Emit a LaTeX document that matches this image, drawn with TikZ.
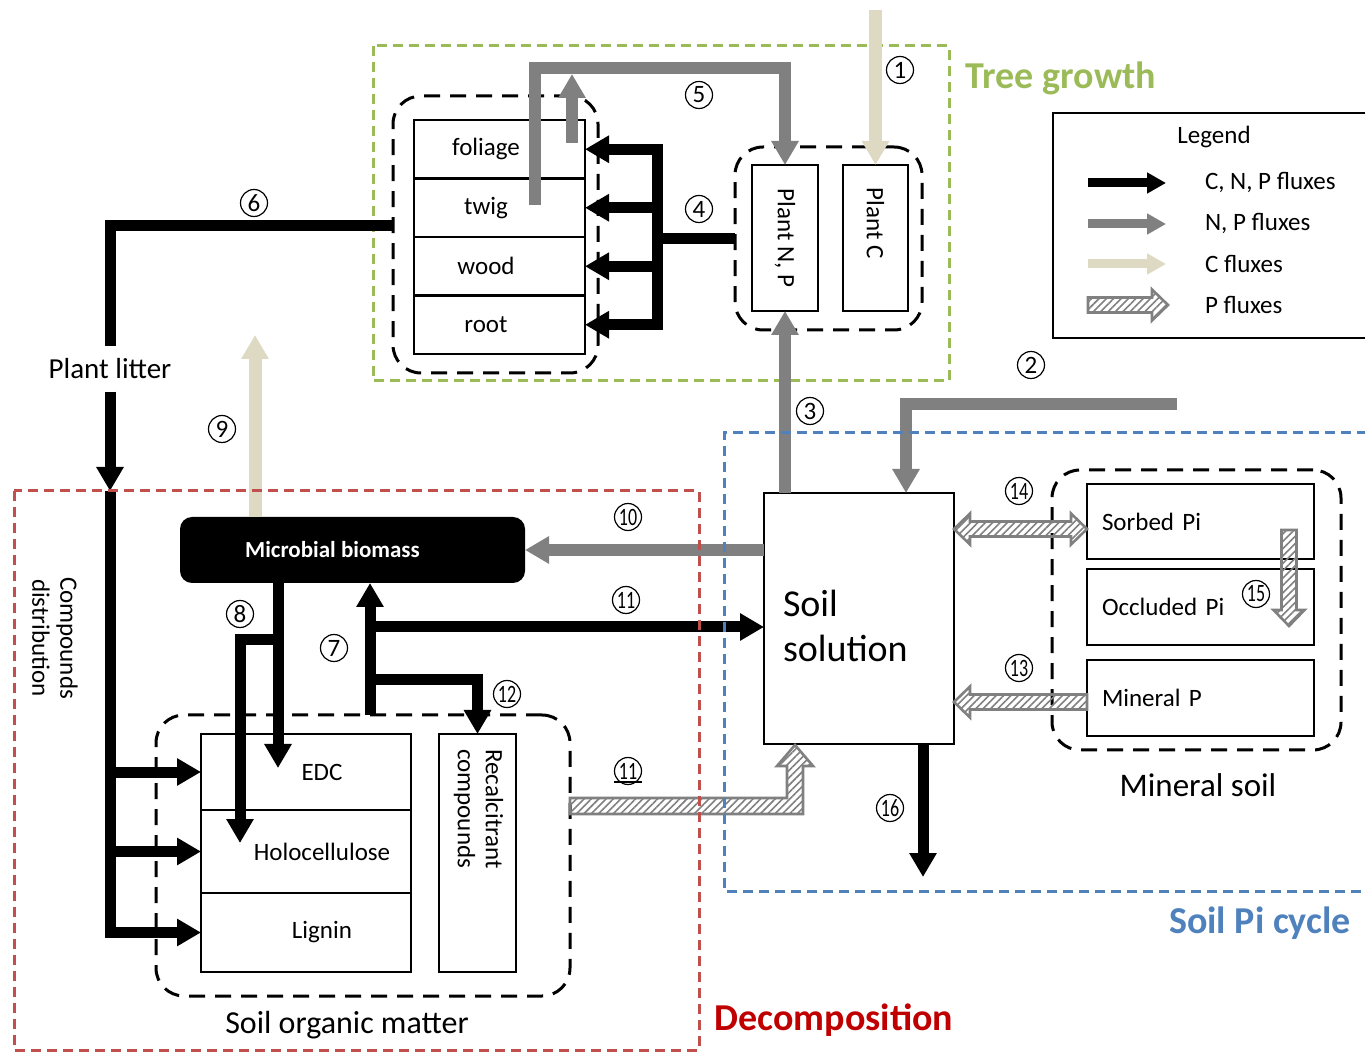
\documentclass[tikz,border=0pt]{standalone}
\usepackage{fontspec}
\setmainfont{Carlito}
\usetikzlibrary{arrows.meta, calc, positioning, patterns.meta}

\definecolor{npgray}{RGB}{128,128,128}
\definecolor{cbeige}{RGB}{221,217,195}
\definecolor{treegreen}{RGB}{155,187,89}
\definecolor{decred}{RGB}{192,80,77}
\definecolor{decdark}{RGB}{192,0,0}
\definecolor{piblue}{RGB}{79,129,189}

\tikzset{
  box/.style={draw, line width=1.3pt, outer sep=0pt, inner sep=0pt},
  organ/.style={box, lbl, minimum width=85.5pt, minimum height=29.25pt},
  pool/.style={box, lbl, minimum width=113.5pt, minimum height=37.5pt, text width=98.5pt, align=left},
  grp/.style={draw, dash pattern=on 8pt off 5pt, line width=1.5pt, rounded corners=14pt, outer sep=0pt, inner sep=0pt},
  region/.style={dash pattern=on 5pt off 3pt, line width=1.5pt},
  cnp/.style={draw=black, line width=5.5pt},
  np/.style={draw=npgray, line width=6pt},
  conly/.style={draw=cbeige, line width=6.5pt},
  tip/.style={-{Triangle[width=13pt,length=12pt]}},
  ltip/.style={-{Triangle[width=10pt,length=9.5pt]}},
  pflux/.style={draw=npgray, line width=1.3pt, pattern={Lines[angle=45,distance=2.6pt,line width=0.8pt]}, pattern color=npgray},
  num/.style={circle, draw, line width=0.6pt, inner sep=0pt, minimum size=13.5pt, font=\fontsize{12.5}{12.5}\selectfont},
  lbl/.style={font=\fontsize{12.5}{14}\selectfont},
  big/.style={font=\fontsize{16}{17}\selectfont},
  title/.style={font=\bfseries\fontsize{19}{20}\selectfont},
}

\newcommand{\twodig}[1]{\scalebox{0.72}[1]{#1}}
% hatched P flux arrow from #1 to #2
\newcommand{\pfluxarrow}[2]{%
  \coordinate (pfa) at #1; \coordinate (pfb) at #2;
  \coordinate (pfh) at ($(pfb)!8pt!(pfa)$);
  \draw[pflux] ($(pfa)!3.75pt!90:(pfb)$) -- ($(pfh)!3.75pt!90:(pfb)$) -- ($(pfh)!7.75pt!90:(pfb)$) -- (pfb)
    -- ($(pfh)!7.75pt!-90:(pfb)$) -- ($(pfh)!3.75pt!-90:(pfb)$) -- ($(pfa)!3.75pt!-90:(pfb)$) -- cycle;}
\newcommand{\pfluxdouble}[2]{%
  \coordinate (pfa) at #1; \coordinate (pfb) at #2;
  \coordinate (pfh) at ($(pfb)!8pt!(pfa)$);
  \coordinate (pft) at ($(pfa)!8pt!(pfb)$);
  \draw[pflux] (pfa) -- ($(pft)!7.75pt!90:(pfb)$) -- ($(pft)!3.75pt!90:(pfb)$) -- ($(pfh)!3.75pt!90:(pfb)$)
    -- ($(pfh)!7.75pt!90:(pfb)$) -- (pfb) -- ($(pfh)!7.75pt!-90:(pfb)$) -- ($(pfh)!3.75pt!-90:(pfb)$)
    -- ($(pft)!3.75pt!-90:(pfb)$) -- ($(pft)!7.75pt!-90:(pfb)$) -- cycle;}

\begin{document}
\begin{tikzpicture}[x=0.5pt, y=-0.5pt]
\useasboundingbox (0,0) rectangle (1365,1052);

\draw[region, treegreen] (373,46) rectangle (949,381);

% tree compartments
\node[grp, minimum width=102.5pt, minimum height=138.5pt, anchor=north west] (treegrp) at (393,96) {};
\node[organ, anchor=north west] (foliage) at (414,120) {foliage\hspace*{13.5pt}};
\node[organ, below=0pt of foliage] (twig) {twig\hspace*{13.5pt}};
\node[organ, below=0pt of twig] (wood) {wood\hspace*{13.5pt}};
\node[organ, below=0pt of wood] (root) {root\hspace*{13.5pt}};

\node[grp, minimum width=93.5pt, minimum height=91.5pt, anchor=north west] (plantgrp) at (735,147) {};
\node[box, lbl, minimum width=33pt, minimum height=73pt, anchor=north west] (plantnp) at (752,165) {\rotatebox{-90}{Plant N, P}};
\node[box, lbl, minimum width=32.5pt, minimum height=73pt, anchor=north west] (plantc) at (843,165) {\rotatebox{-90}{Plant C\hspace{15pt}}};

\node[font=\fontsize{14.5}{15}\selectfont, inner sep=6pt] (litter) at (110,369) {Plant litter};
\node[lbl, rotate=-90, align=center, font=\fontsize{12.5}{14}\selectfont] (compdist) at (55,638) {Compounds\\distribution};

% soil organic matter
\node[fill=black, rounded corners=6pt, minimum width=172.5pt, minimum height=33pt, anchor=north west, inner sep=0pt, outer sep=0pt,
  text=white, font=\bfseries\fontsize{11.5}{12}\selectfont] (micro) at (180,517) {Microbial biomass\hspace*{20pt}};
\node[grp, minimum width=207pt, minimum height=140.5pt, anchor=north west] (somgrp) at (156,715) {};
\node[box, lbl, minimum width=105pt, minimum height=38pt, anchor=north west] (edc) at (201,734) {\hspace*{16pt}EDC};
\node[box, lbl, minimum width=105pt, minimum height=41.5pt, below=0pt of edc] (holo) {\hspace*{16pt}Holocellulose};
\node[box, lbl, minimum width=105pt, minimum height=39.5pt, below=0pt of holo] (lignin) {\hspace*{16pt}Lignin};
\node[box, lbl, minimum width=38.5pt, minimum height=119pt, anchor=north west] (recal) at (439,734)
  {\rotatebox{-90}{\begin{tabular}{@{}l@{\hspace{44pt}}}Recalcitrant\\compounds\end{tabular}}};
\node[big] (somlbl) at (347,1025) {Soil organic matter};

% soil solution and mineral soil
\node[box, minimum width=95pt, minimum height=125.5pt, anchor=north west, text width=76pt, align=left,
  font=\fontsize{19}{22.5}\selectfont] (sol) at (764,493)
  {\raisebox{-6pt}[\height][\depth]{\begin{tabular}{@{}l@{}}Soil\\solution\end{tabular}}};
\node[grp, minimum width=144.5pt, minimum height=140pt, anchor=north west] (mingrp) at (1052,470) {};
\node[pool, anchor=north west] (sorbed) at (1087,484) {Sorbed Pi};
\node[pool, anchor=north west, minimum height=38pt] (occl) at (1087,569) {Occluded Pi};
\node[pool, anchor=north west, minimum height=38pt] (minp) at (1087,660) {Mineral P};
\node[font=\fontsize{16.5}{17}\selectfont] (minlbl) at (1198,785) {Mineral soil};

% free ends
\coordinate (c1) at (875.5,10);
\coordinate (c2) at (1177,404);
\coordinate (c5) at (535,205);
\coordinate (c5t) at (535,68);
\coordinate (c5f) at (572,143);
\coordinate (c9) at (255,335);
\coordinate (scd) at (110,491);
\coordinate (c7) at (370,715);
\coordinate (c8) at (278,640);
\coordinate (c16) at (923,877);

% C, N, P fluxes
\draw[cnp] (plantgrp.west) -- (657,238.5);
\draw[cnp, line cap=rect] (657,149.5) -- (657,324.5);
\foreach \o in {foliage,twig,wood,root}
  \draw[cnp, tip] (\o.east -| 657,0) -- (\o.east);
\draw[cnp] ([yshift=4.5pt]treegrp.west) -| (litter.north);
\draw[cnp, tip] (litter.south) -- (scd);
\draw[cnp, tip] (scd) |- (lignin.west);
\draw[cnp, tip] (edc.west -| scd) -- (edc.west);
\draw[cnp, tip] (holo.west -| scd) -- (holo.west);
\draw[cnp, tip] (c7) -- (c7 |- micro.south);
\draw[cnp, tip] (c7 |- 0,627) -- (sol.west |- 0,627);
\draw[cnp, tip] (c7 |- 0,680) -| (recal.north);
\draw[cnp, tip] (micro.south -| c8) -- (c8 |- 0,768);
\draw[cnp, tip] (c8) -- (240,640) -- (240,843);
\draw[cnp, tip] (sol.south -| c16) -- (c16);

% N, P fluxes
\draw[np, tip] (c5) -- (c5t) -| (plantnp.north);
\draw[np, tip] (c5f) -- (572,74);
\draw[np, tip] (plantnp.south |- sol.north) -- (plantnp.south);
\draw[np, tip] (c2) -| ($(sol.north)+(47,0)$);
\draw[np, tip] (micro.east -| sol.west) -- (micro.east);

% C fluxes
\draw[conly, tip] (c1) -- (plantc.north);
\draw[conly, tip] (micro.north -| c9) -- (c9);

% P fluxes
\pfluxdouble{(sol.east |- 0,529)}{(sorbed.west |- 0,529)}
\pfluxarrow{(minp.west |- 0,702)}{(sol.east |- 0,702)}
\pfluxarrow{(1289,530)}{(1289,626)}
\draw[pflux] (somgrp.east |- 0,798) -- (787,798) -- (787,766) -- (777,766) -- (795,745) -- (813,766)
  -- (803,766) -- (803,814) -- (somgrp.east |- 0,814) -- cycle;

\draw[region, decred] (14,491) rectangle (699,1050);
\draw[region, piblue] (1367,433) -- (724,433) -- (724,891) -- (1367,891);

% flux numbers
\node[num] (n1) at (900,70) {1};
\node[num] (n2) at (1031,365) {2};
\node[num] (n3) at (810,411) {3};
\node[num] (n4) at (699,209) {4};
\node[num] (n5) at (699,95) {5};
\node[num] (n6) at (254,203) {6};
\node[num] (n7) at (334,648) {7};
\node[num] (n8) at (240,614) {8};
\node[num] (n9) at (222,429) {9};
\node[num] (n10) at (628,517) {\twodig{10}};
\node[num] (n11) at (626,600) {\twodig{11}};
\node[num] (n11p) at (628,771) {\twodig{11}};
\draw[line width=1.2pt] ([xshift=-2pt,yshift=-0.5pt]n11p.south west) -- ([xshift=2pt,yshift=-0.5pt]n11p.south east);
\node[num] (n12) at (507,694) {\twodig{12}};
\node[num] (n13) at (1019,668) {\twodig{13}};
\node[num] (n14) at (1019,491) {\twodig{14}};
\node[num] (n15) at (1256,594) {\twodig{15}};
\node[num] (n16) at (890,808) {\twodig{16}};

% titles
\node[title, text=treegreen] (ttree) at (1061,78) {Tree growth};
\node[title, text=decdark] (tdec) at (834,1020) {Decomposition};
\node[title, text=piblue] (tpi) at (1260,923) {Soil Pi cycle};

% legend
\draw[line width=1pt] (1367,113) -- (1053,113) -- (1053,338) -- (1367,338);
\node[lbl] (legend) at (1214,137) {Legend};
\draw[cnp, line width=4.5pt, ltip] (1088,183) -- (1166,183);
\draw[np, line width=4.5pt, ltip] (1088,224) -- (1166,224);
\draw[conly, line width=4.5pt, ltip] (1088,264) -- (1166,264);
\pfluxarrow{(1088,305)}{(1168,305)}
\node[lbl, anchor=west] (lg1) at (1198,183) {C, N, P fluxes};
\node[lbl, anchor=west] (lg2) at (1198,224) {N, P fluxes};
\node[lbl, anchor=west] (lg3) at (1198,264) {C fluxes};
\node[lbl, anchor=west] (lg4) at (1198,305) {P fluxes};
\end{tikzpicture}
\end{document}
